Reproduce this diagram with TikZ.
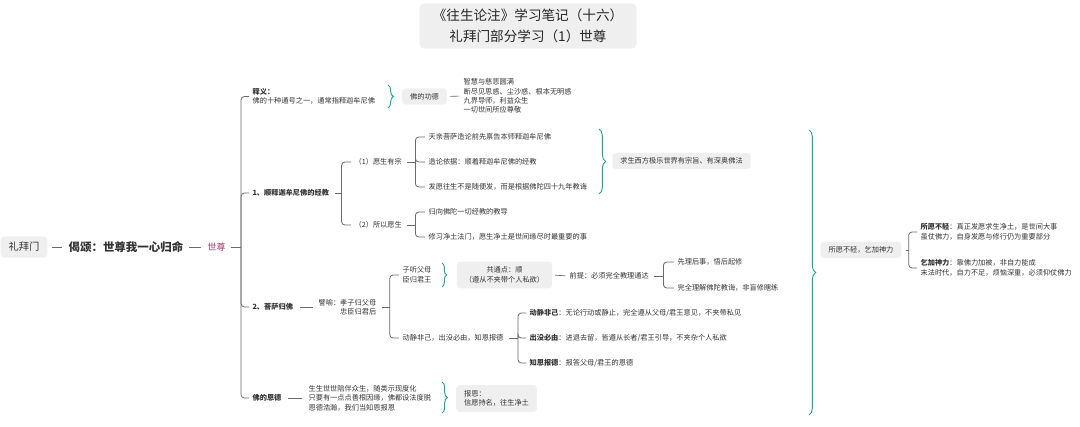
\documentclass[tikz,border=0pt]{standalone}
\usepackage{fontspec}
\setmainfont{Noto Sans CJK SC}
\usetikzlibrary{decorations.pathreplacing,calc}
\definecolor{txt}{HTML}{333333}
\definecolor{lnc}{HTML}{6A6A6A}
\definecolor{tealb}{HTML}{22A38F}
\definecolor{boxf}{HTML}{EFEFEF}
\definecolor{szc}{HTML}{A8356E}
\begin{document}
\begin{tikzpicture}[x=0.75pt,y=-0.75pt,
  every node/.style={text=txt},
  t/.style={anchor=west,inner sep=1pt,align=left,font=\fontsize{5.4}{7.1}\selectfont},
  tb/.style={t,font=\fontsize{5.4}{7.1}\selectfont\bfseries},
  gbox/.style={fill=boxf,rounded corners=2.5pt,inner xsep=6pt,inner ysep=3.5pt,font=\fontsize{5.4}{7.1}\selectfont,align=center},
  ln/.style={draw=lnc,line width=0.5pt},
  brk/.style={draw=lnc,line width=0.6pt,rounded corners=2.5pt},
  tbr/.style={draw=tealb,line width=0.7pt,decorate,decoration={brace,amplitude=4pt}},
]
\useasboundingbox (0,0) rectangle (1080,427);

% title
\node[fill=boxf,rounded corners=4pt,minimum width=163pt,minimum height=34pt,align=center,
      font=\fontsize{10.2}{15.5}\selectfont,text=black!85] (title) at (528,26)
      {《往生论注》学习笔记（十六）\\礼拜门部分学习（1）世尊};

% root chain
\node[fill=boxf,rounded corners=3pt,font=\fontsize{7.7}{9}\selectfont,minimum height=16pt,inner xsep=6pt] (lbm) at (24,247) {礼拜门};
\node[t,font=\fontsize{8.6}{10}\selectfont\bfseries] (gs) at (67,247) {偈颂：世尊我一心归命};
\node[t,font=\fontsize{6.7}{8}\selectfont,text=szc] (sz) at (206,247) {世尊};
\draw[ln,shorten <=3pt,shorten >=4pt] (lbm.east) -- (gs.west);
\draw[ln,shorten <=3pt,shorten >=4pt] (gs.east) -- (sz.west);

% main branches
\node[t] (sy) at (251,96.5) {\textbf{释义：}\\佛的十种通号之一，通常指释迦牟尼佛};
\node[tb] (b1) at (251,193) {1、顺释迦牟尼佛的经教};
\node[tb] (b2) at (251,307) {2、菩萨归佛};
\node[tb] (b3) at (251,398) {佛的恩德};
\draw[brk,shorten <=3pt] (sz.east) -- ++(14,0) coordinate (J0);
\foreach \c in {sy,b1,b2,b3} \draw[brk,shorten >=1.5pt] (J0) |- (\c.west);

% 释义
\draw[tbr] (388,85) -- (388,108);
\node[gbox] (gd) at (424.5,96.5) {佛的功德};
\node[t,font=\fontsize{5.4}{7}\selectfont] (gdl) at (462,96) {智慧与慈悲圆满\\断尽见思惑、尘沙惑、根本无明惑\\九界导师，利益众生\\一切世间所应尊敬};
\draw[ln,shorten <=2pt,shorten >=2pt] (gd.east) -- (gdl.west);

% branch 1
\node[t] (y1) at (353,162) {（1）愿生有宗};
\node[t] (y2) at (353,225) {（2）所以愿生};
\draw[brk,shorten <=3pt] (b1.east) -- ++(11,0) coordinate (J1);
\foreach \c in {y1,y2} \draw[brk,shorten >=1.5pt] (J1) |- (\c.west);

\node[t] (a1) at (427,137) {天亲菩萨造论前先禀告本师释迦牟尼佛};
\node[t] (a2) at (427,162) {造论依据：顺着释迦牟尼佛的经教};
\node[t] (a3) at (427,187) {发愿往生不是随便发，而是根据佛陀四十九年教诲};
\draw[brk,shorten <=3pt] (y1.east) -- ++(12,0) coordinate (J11);
\foreach \c in {a1,a2,a3} \draw[brk,shorten >=1.5pt] (J11) |- (\c.west);

\node[t] (a4) at (427,212) {归向佛陀一切经教的教导};
\node[t] (a5) at (427,237) {修习净土法门，愿生净土是世间缘尽时最重要的事};
\draw[brk,shorten <=3pt] (y2.east) -- ++(12,0) coordinate (J12);
\foreach \c in {a4,a5} \draw[brk,shorten >=1.5pt] (J12) |- (\c.west);

\draw[tbr,decoration={brace,amplitude=5pt}] (599,129) -- (599,194);
\node[gbox] (qs) at (681.5,161) {求生西方极乐世界有宗旨、有深奥佛法};

% big summary
\draw[tbr,decoration={brace,amplitude=5pt}] (809,130) -- (809,415);
\node[gbox] (sj) at (861,250) {所愿不轻，乞加神力};
\node[t,font=\fontsize{5.4}{7.5}\selectfont] (r1) at (919,232) {\textbf{所愿不轻}：真正发愿求生净土，是世间大事\\虽仗佛力，自身发愿与修行仍为重要部分};
\node[t,font=\fontsize{5.4}{7.5}\selectfont] (r2) at (919,268) {\textbf{乞加神力}：靠佛力加被，非自力能成\\末法时代，自力不足，烦恼深重，必须仰仗佛力};
\draw[brk,shorten <=3pt] (sj.east) -- ++(7,0) coordinate (J3);
\foreach \c in {r1,r2} \draw[brk,shorten >=1.5pt] (J3) |- (\c.west);

% branch 2
\node[t,align=right] (py) at (317,307) {譬喻：孝子归父母\\忠臣归君后};
\draw[ln,shorten <=4pt,shorten >=3pt] (b2.east) -- (py.west);
\node[t] (z1) at (401,275) {子听父母\\臣归君王};
\node[t] (z2) at (401,338) {动静非己，出没必由，知恩报德};
\draw[brk,shorten <=3pt] (py.east) -- ++(12,0) coordinate (J2);
\foreach \c in {z1,z2} \draw[brk,shorten >=1.5pt] (J2) |- (\c.west);

\draw[tbr,decoration={brace,amplitude=3.5pt}] (442,263) -- (442,287);
\node[gbox,inner ysep=4pt] (gt) at (504.5,275) {共通点：顺\\（遵从不夹带个人私欲）};
\node[t] (qt) at (568,276) {前提：必须完全教理通达};
\draw[ln,shorten <=2pt,shorten >=2pt] (gt.east) -- (qt.west);
\node[t] (c1) at (676,262) {先理后事，悟后起修};
\node[t] (c2) at (676,288) {完全理解佛陀教诲，非盲修瞎练};
\draw[brk,shorten <=3pt] (qt.east) -- ++(13,0) coordinate (J21);
\foreach \c in {c1,c2} \draw[brk,shorten >=1.5pt] (J21) |- (\c.west);

\node[t] (d1) at (528,313) {\textbf{动静非己}：无论行动或静止，完全遵从父母/君王意见，不夹带私见};
\node[t] (d2) at (528,338) {\textbf{出没必由}：进退去留，皆遵从长者/君王引导，不夹杂个人私欲};
\node[t] (d3) at (528,363) {\textbf{知恩报德}：报答父母/君王的恩德};
\draw[brk,shorten <=3pt] (z2.east) -- ++(13,0) coordinate (J22);
\foreach \c in {d1,d2,d3} \draw[brk,shorten >=1.5pt] (J22) |- (\c.west);

% branch 3
\node[t,font=\fontsize{5.4}{7.1}\selectfont] (ed) at (307,398) {生生世世陪伴众生，随类示现度化\\只要有一点点善根因缘，佛都设法度脱\\恩德浩瀚，我们当知恩报恩};
\draw[ln,shorten <=4pt,shorten >=4pt] (b3.east) -- (ed.west);
\draw[tbr] (442,382) -- (442,413);
\node[gbox,align=left,inner ysep=4pt] (bao) at (496.5,398.5) {报恩：\\信愿持名，往生净土};

\end{tikzpicture}
\end{document}
